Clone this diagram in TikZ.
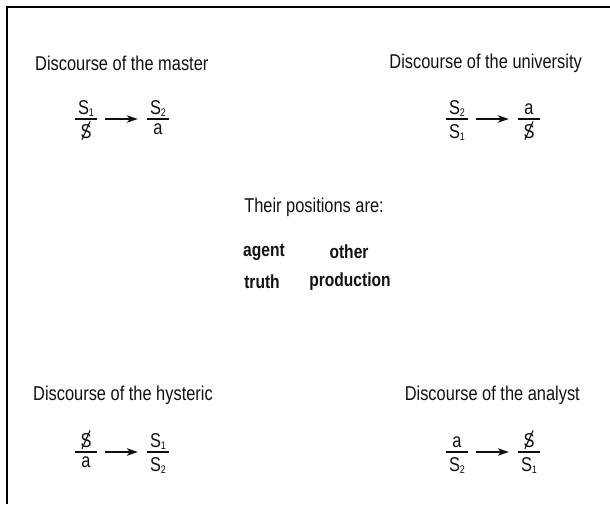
\documentclass[tikz,border=0pt]{standalone}
\usepackage{fontspec}
\usepackage{graphicx}
\setmainfont{Liberation Sans}[FakeStretch=0.82]
\usepackage{tikz}
\usetikzlibrary{arrows.meta,positioning,calc}
\definecolor{ink}{HTML}{111111}
\tikzset{
  >={Stealth[length=11pt,width=7.5pt,inset=3pt]},
  frame/.style={draw=black, line width=2.2pt},
  heading/.style={font=\fontsize{20}{24}\selectfont, text=ink, inner sep=0pt},
  role/.style={font=\fontsize{19}{23}\selectfont\bfseries, text=ink, inner sep=0pt},
  term/.style={font=\fontsize{20}{24}\selectfont, text=ink, inner sep=0pt},
  fracbar/.style={fill=ink, minimum width=22pt, minimum height=1.4pt, inner sep=0pt},
  flow/.style={->, line width=1.4pt, color=ink, shorten <=8pt, shorten >=9pt}
}
% small index and barred subject
\newcommand{\ix}[1]{\raisebox{-2.5pt}{\fontsize{11}{12}\selectfont #1}}
\newcommand{\barS}{\ooalign{S\cr\hidewidth\raisebox{7.5pt}{\rotatebox[origin=c]{66}{\rule[-0.55pt]{20pt}{1.1pt}}}\hidewidth\cr}}
% name, position, numerator, denominator
\newcommand{\discfrac}[4]{%
  \node[fracbar] (#1) at (#2) {};
  \node[term,anchor=base] (#1-up) at ([yshift=4pt]#1.north) {#3};
  \node[term,anchor=north] (#1-down) at ([yshift=-4pt]#1.south) {#4};
}

\begin{document}
\begin{tikzpicture}[x=1pt,y=-1pt]
  \useasboundingbox (0,0) rectangle (610,504);
  \draw[frame] (7,504) |- (610,7);

  % master
  \node[heading,anchor=west] (master) at (35,63) {Discourse of the master};
  \discfrac{ma}{86,119}{S\ix{1}}{\barS}
  \discfrac{mb}{158,119}{S\ix{2}}{a}
  \draw[flow] (ma) -- (mb);

  % university
  \node[heading,anchor=east] (university) at (582,63) {Discourse of the university};
  \discfrac{ua}{457,119}{S\ix{2}}{S\ix{1}}
  \discfrac{ub}{529,119}{a}{\barS}
  \draw[flow] (ua) -- (ub);

  % positions
  \node[heading] (positions) at (314,207) {Their positions are:};
  \node[role] (agent) at (264,252) {agent};
  \node[role] (other) at (349,252) {other};
  \node[role] (truth) at (262,282) {truth};
  \node[role] (production) at (350,282) {production};

  % hysteric
  \node[heading,anchor=west] (hysteric) at (33,395) {Discourse of the hysteric};
  \discfrac{ha}{86,452}{\barS}{a}
  \discfrac{hb}{158,452}{S\ix{1}}{S\ix{2}}
  \draw[flow] (ha) -- (hb);

  % analyst
  \node[heading,anchor=east] (analyst) at (580,395) {Discourse of the analyst};
  \discfrac{aa}{457,452}{a}{S\ix{2}}
  \discfrac{ab}{529,452}{\barS}{S\ix{1}}
  \draw[flow] (aa) -- (ab);
\end{tikzpicture}
\end{document}
